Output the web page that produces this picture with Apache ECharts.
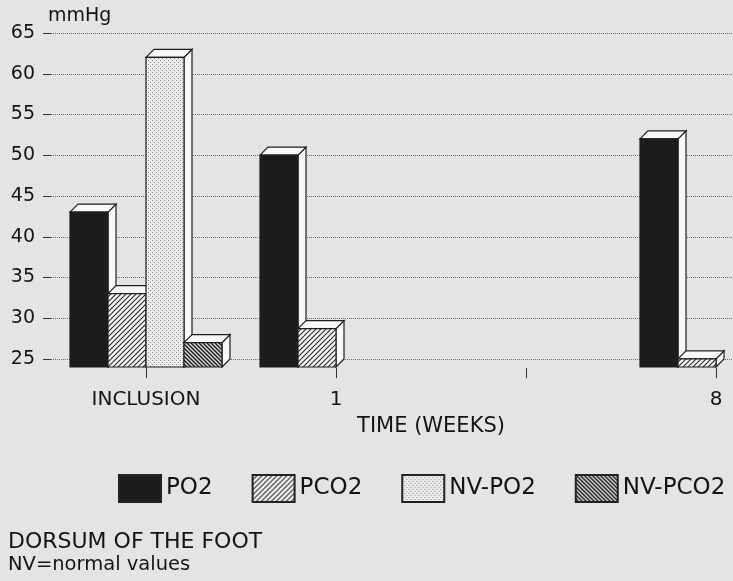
<!DOCTYPE html>
<html>
<head>
<meta charset="utf-8">
<script src="https://cdn.jsdelivr.net/npm/echarts@6/dist/echarts.min.js"></script>
<style>
	html, body { margin: 0; padding: 0; background: #e4e4e4; }
	#main { width: 733px; height: 581px; }
</style>
</head>
<body>
<div id="main"></div>
<script>
/*数据*/
var categories = ['INCLUSION', '1', '', '8'];
var po2 = [44, 51, null, 53];
var pco2 = [34, 29.7, null, 26];
var nvPo2 = [63, null, null, null];
var nvPco2 = [28, null, null, null];
var seriesNames = ['PO2', 'PCO2', 'NV-PO2', 'NV-PCO2'];

var FONT = 'DejaVu Sans';
var INK = '#141414';
var DEPTH = 8;

/*填充图案*/
function makePattern(size, draw){
	var c = document.createElement('canvas');
	c.width = size;
	c.height = size;
	var ctx = c.getContext('2d');
	draw(ctx, size);
	return { image: c, repeat: 'repeat' };
}

var patterns = [
	makePattern(4, function(ctx, s){
		ctx.fillStyle = '#1c1c1c';
		ctx.fillRect(0, 0, s, s);
	}),
	makePattern(5, function(ctx, s){
		ctx.fillStyle = '#f6f6f6';
		ctx.fillRect(0, 0, s, s);
		ctx.strokeStyle = '#2a2a2a';
		ctx.lineWidth = 1.1;
		ctx.beginPath();
		ctx.moveTo(-1, s + 1); ctx.lineTo(s + 1, -1);
		ctx.moveTo(-1, 1); ctx.lineTo(1, -1);
		ctx.moveTo(s - 1, s + 1); ctx.lineTo(s + 1, s - 1);
		ctx.stroke();
	}),
	makePattern(4, function(ctx, s){
		ctx.fillStyle = '#ececec';
		ctx.fillRect(0, 0, s, s);
		ctx.fillStyle = '#8a8a8a';
		ctx.fillRect(0, 0, 1, 1);
		ctx.fillRect(2, 2, 1, 1);
	}),
	makePattern(4, function(ctx, s){
		ctx.fillStyle = '#dcdcdc';
		ctx.fillRect(0, 0, s, s);
		ctx.strokeStyle = '#1a1a1a';
		ctx.lineWidth = 1.4;
		ctx.beginPath();
		ctx.moveTo(-1, -1); ctx.lineTo(s + 1, s + 1);
		ctx.moveTo(s - 1, -1); ctx.lineTo(s + 1, 1);
		ctx.moveTo(-1, s - 1); ctx.lineTo(1, s + 1);
		ctx.stroke();
	})
];

/*立体柱子*/
function bar3d(slot){
	return function(params, api){
		var ci = api.value(0);
		var v = api.value(1);
		var top = api.coord([ci, v]);
		var base = api.coord([ci, 25]);
		var bw = api.size([1, 0])[0] * 0.2;
		var x0 = top[0] + (slot - 2) * bw;
		var yt = top[1] + DEPTH;
		var yb = base[1] + DEPTH;
		var edge = { stroke: '#1e1e1e', lineWidth: 1.2 };
		return {
			type: 'group',
			children: [{
				type: 'polygon',
				shape: { points: [[x0 + bw, yt], [x0 + bw + DEPTH, yt - DEPTH], [x0 + bw + DEPTH, yb - DEPTH], [x0 + bw, yb]] },
				style: Object.assign({ fill: '#f8f8f8' }, edge)
			}, {
				type: 'polygon',
				shape: { points: [[x0, yt], [x0 + DEPTH, yt - DEPTH], [x0 + bw + DEPTH, yt - DEPTH], [x0 + bw, yt]] },
				style: Object.assign({ fill: '#f8f8f8' }, edge)
			}, {
				type: 'rect',
				shape: { x: x0, y: yt, width: bw, height: yb - yt },
				style: Object.assign({ fill: patterns[slot] }, edge)
			}]
		};
	};
}

function toData(arr){
	var out = [];
	arr.forEach(function(v, i){
		if(v != null){ out.push([i, v]); }
	});
	return out;
}

var chart = echarts.init(document.getElementById('main'), null, { renderer: 'canvas' });

var allValues = [po2, pco2, nvPo2, nvPco2];
var series = allValues.map(function(arr, k){
	return {
		name: seriesNames[k],
		type: 'custom',
		renderItem: bar3d(k),
		itemStyle: { color: patterns[k], borderColor: '#222', borderWidth: 1 },
		data: toData(arr)
	};
});

var option = {
	backgroundColor: '#e4e4e4',
	animation: false,
	textStyle: { fontFamily: FONT, color: INK },
	grid: {
		left: 51,
		top: 33,
		width: 760,
		height: 326,
		containLabel: false,
		outerBoundsMode: 'none'
	},
	legend: {
		left: 118,
		top: 474,
		padding: 0,
		itemWidth: 42,
		itemHeight: 27,
		itemGap: 39,
		icon: 'rect',
		selectedMode: false,
		textStyle: { fontFamily: FONT, fontSize: 23, color: INK },
		data: seriesNames
	},
	xAxis: {
		type: 'category',
		data: categories,
		offset: DEPTH + 1,
		name: 'TIME (WEEKS)',
		nameLocation: 'middle',
		nameGap: 48,
		nameTextStyle: { fontFamily: FONT, fontSize: 21, color: INK },
		axisLine: { show: false },
		axisTick: { show: true, alignWithLabel: true, length: 10, lineStyle: { color: '#333' } },
		axisLabel: { fontFamily: FONT, fontSize: 20, color: INK, margin: 22, interval: 0 },
		splitLine: { show: false }
	},
	yAxis: {
		type: 'value',
		min: 25,
		max: 65,
		interval: 5,
		name: 'mmHg',
		nameLocation: 'end',
		nameGap: 7,
		nameTextStyle: { fontFamily: FONT, fontSize: 19, color: INK, align: 'left', padding: [0, 0, 0, -3] },
		axisLine: { show: false },
		axisTick: { show: true, length: 8, lineStyle: { color: '#333' } },
		axisLabel: { fontFamily: FONT, fontSize: 19, color: INK, margin: 16 },
		splitLine: { show: true, lineStyle: { color: '#6a6a6a', type: 'dotted', width: 1 } }
	},
	graphic: [{
		type: 'text',
		left: 8,
		top: 531,
		style: { text: 'DORSUM OF THE FOOT', fontFamily: FONT, fontSize: 22, fill: INK }
	}, {
		type: 'text',
		left: 8,
		top: 555,
		style: { text: 'NV=normal values', fontFamily: FONT, fontSize: 19.5, fill: INK }
	}],
	series: series
};

chart.setOption(option);
</script>
</body>
</html>
